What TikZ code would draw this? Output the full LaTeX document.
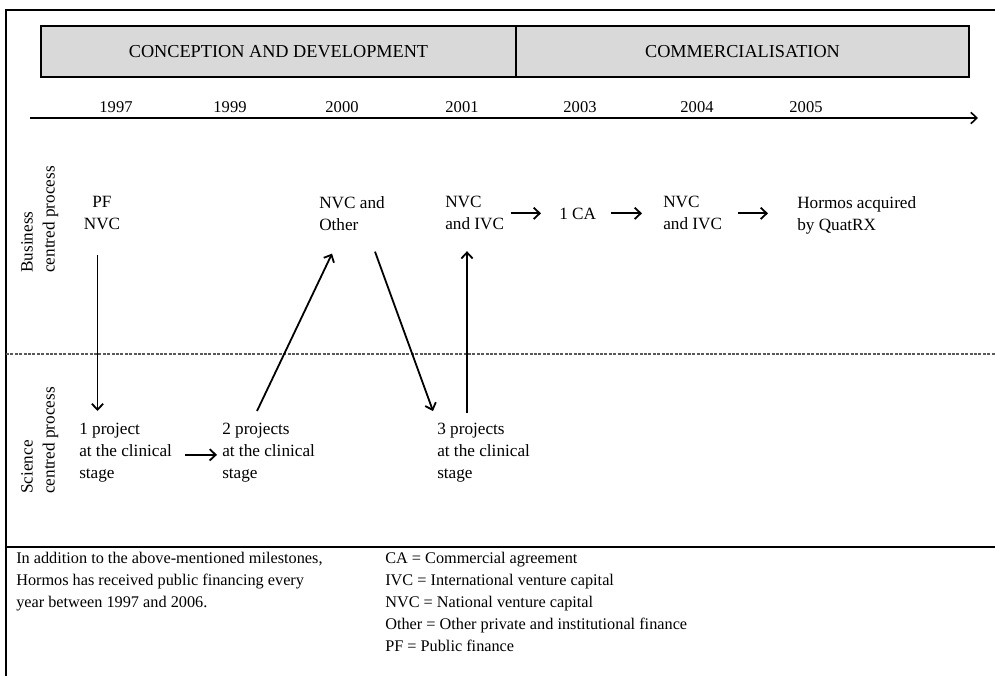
\documentclass[tikz,border=0pt]{standalone}
\usepackage{fontspec}
\setmainfont{Liberation Serif}
\usetikzlibrary{arrows.meta,calc}

% fixed top of the first text line, so every block hangs from a known baseline
\newcommand{\topstrut}{\rule{0pt}{9pt}}
\newcommand{\bodyfont}{\fontsize{12.9}{16.5}\selectfont}
\newcommand{\yearfont}{\fontsize{12.4}{15}\selectfont}
\newcommand{\headfont}{\fontsize{13.7}{16}\selectfont}
\newcommand{\notefont}{\fontsize{12.2}{16.5}\selectfont}

\tikzset{
  phase/.style={draw=black, line width=1.5pt, fill=phasegray, inner sep=0pt,
                font=\headfont},
  year/.style={anchor=base, inner sep=0pt, font=\yearfont},
  txt/.style={align=left, anchor=north west, inner sep=0pt, font=\bodyfont,
              execute at begin node=\topstrut},
  ctxt/.style={txt, align=center, anchor=north},
  sidelabel/.style={txt, rotate=90},
  note/.style={txt, font=\notefont},
  arr/.style={line width=1.35pt, -{Straight Barb[length=4.5pt,width=8.5pt,line width=1.35pt]}},
  frame/.style={line width=1.1pt},
  split/.style={line width=0.8pt, gray!70!black, dash pattern=on 2.2pt off 1.1pt},
}
\definecolor{phasegray}{HTML}{D9D9D9}

\begin{document}
\begin{tikzpicture}[x=0.75pt, y=-0.75pt]
  \useasboundingbox (0,0) rectangle (995,676);

  % outer frame and section rules
  \draw[frame] (995,10) -- (6,10) -- (6,676);
  \draw[frame] (6,547) -- (995,547);
  \draw[split] (6,354) -- (995,354);

  % phases
  \node[phase, minimum width=356.25pt, minimum height=38.25pt] (dev) at (278.5,51.5)
    {CONCEPTION AND DEVELOPMENT};
  \node[phase, minimum width=339.75pt, minimum height=38.25pt] (com) at (742.5,51.5)
    {COMMERCIALISATION};

  % time axis
  \coordinate (t0) at (30,118);
  \coordinate (t1) at (978,118);
  \draw[line width=1.2pt, -{Straight Barb[length=4.5pt,width=8.5pt,line width=1.2pt]}] (t0) -- (t1);
  \node[year] (y1997) at (116,112) {1997};
  \node[year] (y1999) at (230,112) {1999};
  \node[year] (y2000) at (342,112) {2000};
  \node[year] (y2001) at (462,112) {2001};
  \node[year] (y2003) at (580,112) {2003};
  \node[year] (y2004) at (697,112) {2004};
  \node[year] (y2005) at (806,112) {2005};

  % row labels
  \node[sidelabel] (biz) at (21,273) {Business\\centred process};
  \node[sidelabel] (sci) at (21,494) {Science\\centred process};

  % business centred process
  \node[ctxt] (pf) at (102,196) {PF\\NVC};
  \node[txt] (nvcother) at (319,196) {NVC and\\Other};
  \node[txt] (nvcivc1) at (445,196) {NVC\\and IVC};
  \node[txt] (ca) at (559,207) {1 CA};
  \node[txt] (nvcivc2) at (663,196) {NVC\\and IVC};
  \node[txt] (hormos) at (797,196) {Hormos acquired\\by QuatRX};

  % science centred process
  \node[txt] (p1) at (79,423) {1 project\\at the clinical\\stage};
  \node[txt] (p2) at (222,423) {2 projects\\at the clinical\\stage};
  \node[txt] (p3) at (437,423) {3 projects\\at the clinical\\stage};

  % links between the two processes
  \draw[arr] ($(pf.south)+(-4.5,25)$) -- ($(p1.north west)+(18.5,-12)$);
  \draw[arr] ($(p2.north west)+(35,-12)$) -- ($(nvcother.south west)+(13,23)$);
  \draw[arr] ($(nvcother.south west)+(56,21)$) -- ($(p3.north west)+(-4,-12)$);
  \draw[arr] ($(p3.north west)+(30,-10)$) -- ($(nvcivc1.south west)+(22,21)$);
  \draw[arr] ($(p1.east)+(13,2)$) -- ($(p2.west)+(-5,2)$);

  % commercial sequence
  \draw[arr] ($(ca.west -| nvcivc1.east)+(7,0)$) -- ($(ca.west)+(-18,0)$);
  \draw[arr] ($(ca.east)+(15,0)$) -- ($(ca.west -| nvcivc2.west)+(-21,0)$);
  \draw[arr] ($(ca.west -| nvcivc2.east)+(16,0)$) -- ($(ca.west -| hormos.west)+(-29,0)$);

  % notes
  \node[note] (remark) at (16,552)
    {In addition to the above-mentioned milestones,\\
     Hormos has received public financing every\\
     year between 1997 and 2006.};
  \node[note] (legend) at (385,552)
    {CA = Commercial agreement\\
     IVC = International venture capital\\
     NVC = National venture capital\\
     Other = Other private and institutional finance\\
     PF = Public finance};
\end{tikzpicture}
\end{document}
